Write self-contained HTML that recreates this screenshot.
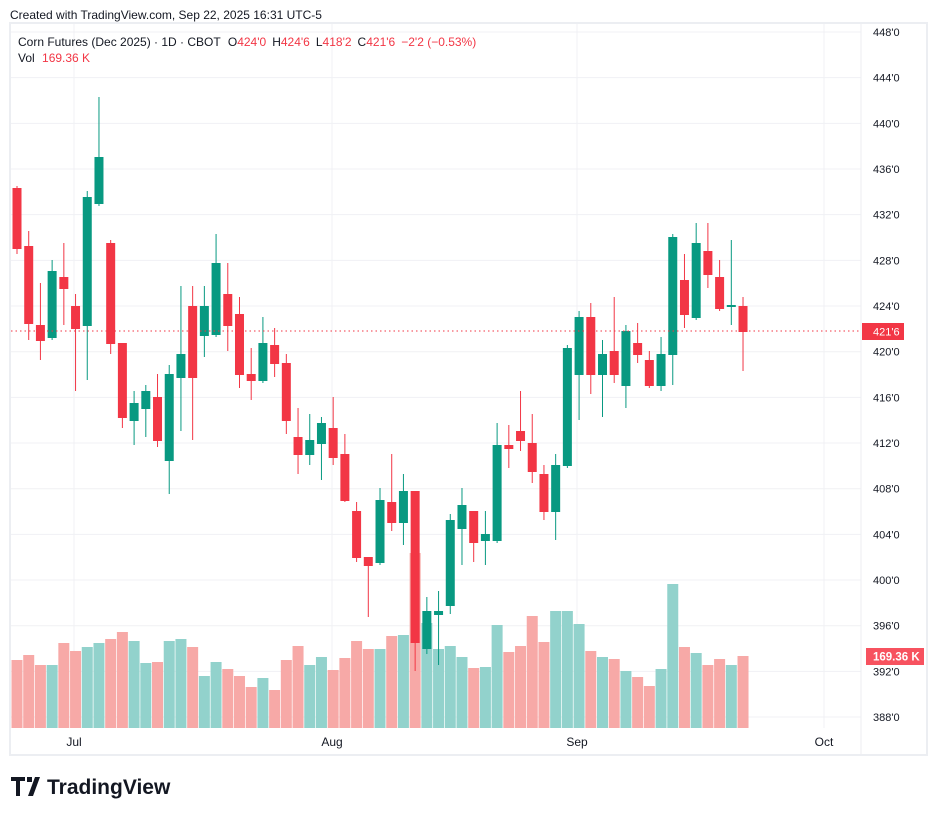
<!DOCTYPE html>
<html><head><meta charset="utf-8"><style>
body{margin:0;background:#fff;width:937px;height:816px;overflow:hidden;font-family:"Liberation Sans",sans-serif}
svg text{font-family:"Liberation Sans",sans-serif}
</style></head><body>
<svg id="s" width="937" height="816" xmlns="http://www.w3.org/2000/svg">
<text x="10" y="19" font-size="12" fill="#131722">Created with TradingView.com, Sep 22, 2025 16:31 UTC-5</text>
<rect x="10" y="23" width="917" height="732" fill="none" stroke="#eceef2" stroke-width="2"/>
<g id="grid" stroke="#f0f1f4" stroke-width="1"></g>
<g id="vol"></g>
<g id="cdl"></g>
<line x1="11" y1="331" x2="861" y2="331" stroke="#f23645" stroke-width="1" stroke-dasharray="1.5,3"/>
<text x="18" y="46" font-size="12" fill="#131722">Corn Futures (Dec 2025) · 1D · CBOT <tspan dx="4">O</tspan><tspan fill="#f23645">424'0</tspan><tspan dx="6">H</tspan><tspan fill="#f23645">424'6</tspan><tspan dx="6">L</tspan><tspan fill="#f23645">418'2</tspan><tspan dx="6">C</tspan><tspan fill="#f23645">421'6</tspan><tspan dx="6" fill="#f23645">−2'2 (−0.53%)</tspan></text>
<text x="18" y="62" font-size="12" fill="#131722">Vol <tspan dx="4" fill="#f23645">169.36 K</tspan></text>
<g id="ax" font-size="11" fill="#131722"></g>
<rect x="862" y="323" width="42" height="17" fill="#f23645"/>
<text x="873" y="335.5" font-size="11" fill="#fff">421'6</text>
<rect x="866" y="648" width="58" height="17" fill="#f7525f"/>
<text x="873" y="660.5" font-size="11.5" font-weight="bold" fill="#fff">169.36 K</text>
<text x="74" y="746" font-size="12" fill="#131722" text-anchor="middle">Jul</text>
<text x="332" y="746" font-size="12" fill="#131722" text-anchor="middle">Aug</text>
<text x="577" y="746" font-size="12" fill="#131722" text-anchor="middle">Sep</text>
<text x="824" y="746" font-size="12" fill="#131722" text-anchor="middle">Oct</text>
<g transform="translate(11,777)">
<path d="M0 0h14v4h-5v15h-4V4H0z M16 0h5v5h-5z M24 0h5l-7 19h-5z" fill="#131722"/>
<text x="36" y="17" font-size="21" font-weight="bold" fill="#131722">TradingView</text>
</g>
</svg>
<script>
var NS="http://www.w3.org/2000/svg";
function el(p,t,a){var e=document.createElementNS(NS,t);for(var k in a)e.setAttribute(k,a[k]);p.appendChild(e);return e;}
var g=document.getElementById('grid'),ax=document.getElementById('ax');
var labs=["448'0","444'0","440'0","436'0","432'0","428'0","424'0","420'0","416'0","412'0","408'0","404'0","400'0","396'0","392'0","388'0"];
for(var i=0;i<16;i++){var y=32+i*45.67;el(g,'line',{x1:11,x2:861,y1:y,y2:y});var t=el(ax,'text',{x:873,y:y+4});t.textContent=labs[i];}
[74,332,577,824].forEach(function(x){el(g,'line',{x1:x,x2:x,y1:24,y2:728});});
el(g,'line',{x1:861,x2:861,y1:24,y2:754,stroke:'#eceef2'});
var C=[[188,249,186,254,0],[246,324,231,340,0],[325,341,283,360,0],[271,338,260,340,1],[277,289,243,325,0],[306,329,294,391,0],[197,326,191,380,1],[157,204,97,206,1],[243,344,240,354,0],[343,418,343,428,0],[403,421,391,445,1],[391,409,385,437,1],[397,441,374,447,0],[374,461,365,494,1],[354,378,286,431,1],[306,378,286,440,0],[306,336,286,357,1],[263,335,234,337,1],[294,326,263,351,0],[314,375,297,388,0],[374,381,348,400,0],[343,381,317,383,1],[345,364,328,377,0],[363,421,354,434,0],[437,455,408,474,0],[440,455,414,465,1],[423,444,417,480,1],[428,458,397,465,0],[454,501,434,502,0],[511,558,502,562,0],[557,566,557,617,0],[500,563,488,565,1],[502,523,454,531,0],[491,523,474,545,1],[491,643,491,671,0],[611,649,597,654,1],[611,615,591,665,1],[520,606,514,614,1],[505,529,488,565,1],[511,543,511,562,0],[534,541,511,565,1],[445,541,423,543,1],[445,449,425,468,0],[431,441,391,451,0],[443,472,414,483,0],[474,512,465,520,0],[465,512,454,540,1],[348,466,345,468,1],[317,375,311,420,1],[317,375,303,394,0],[354,375,340,417,1],[351,375,297,383,0],[331,386,325,408,1],[343,355,323,363,0],[360,386,351,388,0],[354,386,337,391,1],[237,355,234,385,1],[280,315,254,328,0],[243,318,223,320,1],[251,275,223,288,0],[277,309,260,311,0],[305,307,240,325,1],[306,332,297,371,0]];
var V=[660,655,665,665,643,651,647,643,639,632,641,663,662,641,639,647,676,662,669,676,687,678,690,660,646,665,657,670,658,641,649,649,636,635,553,623,649,646,657,668,667,625,652,646,616,642,611,611,624,651,657,659,671,677,686,669,584,647,653,665,659,665,656];
var cg=document.getElementById('cdl'),vg=document.getElementById('vol');
for(var i=0;i<C.length;i++){var x=17+i*11.71,c=C[i],col=c[4]?'#089981':'#f23645';
el(vg,'rect',{x:x-5.5,y:V[i],width:11,height:728-V[i],fill:c[4]?'#92d2cc':'#f7a9a7'});
el(cg,'line',{x1:x,x2:x,y1:c[2],y2:c[3],stroke:col,'stroke-width':1});
el(cg,'rect',{x:x-4.5,y:c[0],width:9,height:Math.max(1,c[1]-c[0]),fill:col});}
</script>
</body></html>
